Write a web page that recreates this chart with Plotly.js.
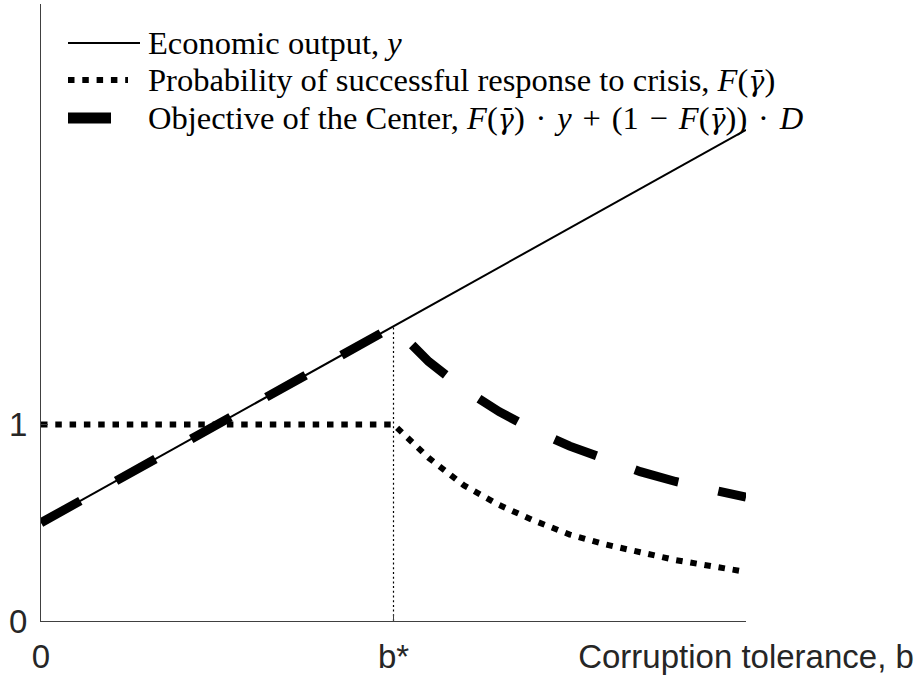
<!DOCTYPE html>
<html>
<head>
<meta charset="utf-8">
<script src="https://cdn.plot.ly/plotly-3.0.1.min.js"></script>
<style>
  html, body { margin: 0; padding: 0; background: #fff; }
  #chart { width: 921px; height: 677px; }
</style>
</head>
<body>
<div id="chart"></div>
<script>
// ---- data ----
const outputB = [0, 2];
const outputY = [0.5, 2.5];

const curveB      = [0, 1, 1.1, 1.2, 1.3, 1.4, 1.5, 1.6, 1.7, 1.8, 1.9, 2.0];
const probF       = [1, 1, 0.83, 0.69, 0.59, 0.51, 0.44, 0.39, 0.35, 0.31, 0.28, 0.25];
const objectiveC  = [0.5, 1.5, 1.32, 1.18, 1.065, 0.97, 0.89, 0.82, 0.76, 0.71, 0.665, 0.63];

const bStar = 1;
const bStarY = 1.5;

const xTickVals = [0, 1, 2];
const xTickText = ['0', 'b*', 'Corruption tolerance, b'];
const yTickVals = [0, 1, 3.14];
const yTickText = ['0', '1', ''];

const SP = '\u2004';
const GB = '<span style="font-family:DejaVu Serif;font-size:27px"><i>γ̄</i></span>';
const legendLabels = [
  'Economic output, <i>y</i>',
  'Probability of successful response to crisis, <i>F</i>(' + GB + ')',
  'Objective of the Center, <i>F</i>(' + GB + ')' + SP + '·' + SP + '<i>y</i>' + SP + '+' + SP +
    '(1' + SP + '−' + SP + '<i>F</i>(' + GB + '))' + SP + '·' + SP + '<i>D</i>'
];

// ---- styling ----
const DOT = '6.5px,7.8px';
const DASH = '45px,41px';

const traces = [
  { x: outputB, y: outputY, mode: 'lines', line: { color: '#000', width: 2 }, showlegend: false, hoverinfo: 'skip' },
  { x: curveB, y: probF, mode: 'lines', line: { color: '#000', width: 6, dash: DOT }, showlegend: false, hoverinfo: 'skip' },
  { x: curveB, y: objectiveC, mode: 'lines', line: { color: '#000', width: 9, dash: DASH }, showlegend: false, hoverinfo: 'skip' },
  { x: [bStar, bStar], y: [0, bStarY], mode: 'lines', line: { color: '#000', width: 1.2, dash: '2px,2.7px' }, showlegend: false, hoverinfo: 'skip' }
];

// pixel helpers for legend placement (plot area: x 41..746, y 4..621)
const L = 41, R = 175, T = 4, B = 56;
const W = 921 - L - R, H = 677 - T - B;
const xr = [0, 2], yr = [0, 3.14];
const px2x = p => xr[0] + (p - L) / W * (xr[1] - xr[0]);
const py2y = p => yr[0] + (677 - B - p) / H * (yr[1] - yr[0]);

const rows = [43, 80, 118];
const shapes = [
  { type: 'line', xref: 'x', yref: 'y', x0: px2x(68), x1: px2x(140), y0: py2y(rows[0]), y1: py2y(rows[0]), line: { color: '#000', width: 2 } },
  { type: 'line', xref: 'x', yref: 'y', x0: px2x(68), x1: px2x(128), y0: py2y(rows[1]), y1: py2y(rows[1]), line: { color: '#000', width: 6, dash: DOT } },
  { type: 'line', xref: 'x', yref: 'y', x0: px2x(68), x1: px2x(111), y0: py2y(rows[2]), y1: py2y(rows[2]), line: { color: '#000', width: 11 } }
];
const annotations = legendLabels.map((t, i) => ({
  xref: 'x', yref: 'y', x: px2x(146), y: py2y(rows[i]), xanchor: 'left', yanchor: 'middle',
  text: t, showarrow: false, font: { family: 'Liberation Serif, Times New Roman, serif', size: 32.5, color: '#000' }
}));

const tickFont = { family: 'Liberation Sans, Arial, sans-serif', size: 33, color: '#262626' };

const layout = {
  width: 921, height: 677,
  margin: { l: L, r: R, t: T, b: B, pad: 0 },
  paper_bgcolor: '#fff', plot_bgcolor: '#fff',
  showlegend: false,
  font: tickFont,
  xaxis: {
    range: xr, tickmode: 'array', tickvals: xTickVals, ticktext: xTickText,
    ticks: 'inside', ticklen: 7, tickcolor: '#404040', tickwidth: 1,
    showline: true, linecolor: '#404040', linewidth: 1,
    showgrid: false, zeroline: false, fixedrange: true,
    ticklabelstandoff: 6,
    tickfont: tickFont
  },
  yaxis: {
    range: yr, tickmode: 'array', tickvals: yTickVals, ticktext: yTickText,
    ticks: 'inside', ticklen: 7, tickcolor: '#404040', tickwidth: 1,
    showline: true, linecolor: '#404040', linewidth: 1,
    showgrid: false, zeroline: false, fixedrange: true,
    ticklabelstandoff: 6,
    tickfont: tickFont
  },
  shapes: shapes,
  annotations: annotations
};

Plotly.newPlot('chart', traces, layout, { staticPlot: true, displayModeBar: false });
</script>
</body>
</html>
